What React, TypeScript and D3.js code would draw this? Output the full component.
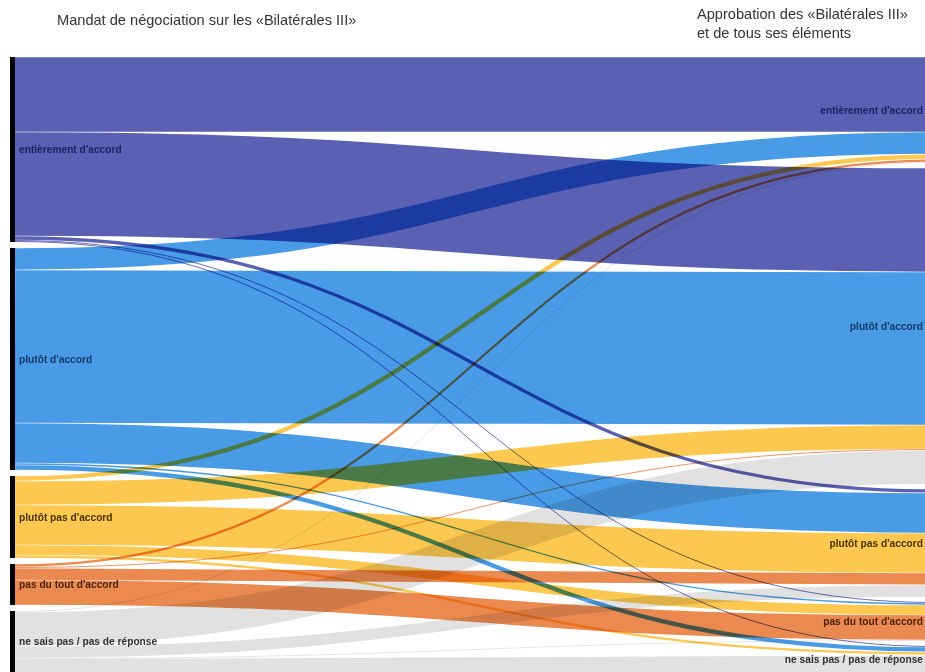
import * as d3 from 'd3';

// categories (same on both sides)
const categories = [
  "entièrement d'accord",
  "plutôt d'accord",
  "plutôt pas d'accord",
  "pas du tout d'accord",
  "ne sais pas / pas de réponse",
];

// flows from each left category to the right categories (same order)
const fromEntierement = [75, 104, 4, 1, 1];
const fromPlutot = [22, 153, 40, 2, 5];
const fromPlutotPas = [5, 24, 40, 10, 3];
const fromPasDuTout = [3, 1, 12, 25, 0];
const fromNeSaisPas = [1, 34, 12, 1, 28];

const flows = [fromEntierement, fromPlutot, fromPlutotPas, fromPasDuTout, fromNeSaisPas];

const leftTitle = 'Mandat de négociation sur les «Bilatérales III»';
const rightTitle = ['Approbation des «Bilatérales III»', 'et de tous ses éléments'];

const COLORS = ['#5a60b2', '#4a9be5', '#fcc84f', '#eb8a50', '#e1e1e1'];
const LABEL_COLORS = ['#1c2262', '#143a6a', '#4a3200', '#4e2200', '#333333'];

const W = 925;
const H = 672;
const TOP = 57;
const X0 = 15;
const X1 = 935;
const PAD_LEFT = 6;
const PAD_RIGHT = 5;

export default function App() {
  const total = d3.sum(flows, (r) => d3.sum(r));
  const y = d3.scaleLinear().domain([0, total]).range([0, total]);

  const leftTotals = flows.map((r) => d3.sum(r));
  const rightTotals = categories.map((_, j) => d3.sum(flows, (r) => r[j]));

  const stack = (totals: number[], pad: number) => {
    let cur = TOP;
    return totals.map((t) => {
      const n = { y0: cur, y1: cur + y(t) };
      cur = n.y1 + pad;
      return n;
    });
  };
  const leftNodes = stack(leftTotals, PAD_LEFT);
  const rightNodes = stack(rightTotals, PAD_RIGHT);

  // offsets inside nodes
  const srcOff = leftNodes.map((n) => n.y0);
  const tgtOff = rightNodes.map((n) => n.y0);
  const links: { s: number; t: number; sy: number; ty: number; w: number }[] = [];
  flows.forEach((row, i) => {
    row.forEach((v, j) => {
      if (v <= 0) return;
      links.push({ s: i, t: j, sy: srcOff[i], ty: 0, w: y(v) });
      srcOff[i] += y(v);
    });
  });
  categories.forEach((_, j) => {
    links
      .filter((l) => l.t === j)
      .sort((a, b) => a.s - b.s)
      .forEach((l) => {
        l.ty = tgtOff[j];
        tgtOff[j] += l.w;
      });
  });

  const linkGen = d3.linkHorizontal<any, [number, number]>()
    .source((d: any) => d.source)
    .target((d: any) => d.target);

  const font = "'Liberation Sans', Arial, sans-serif";
  const mid = (n: { y0: number; y1: number }) => (n.y0 + Math.min(n.y1, H)) / 2;

  return (
    <svg width={W} height={H} style={{ position: 'absolute', left: 0, top: 0, background: '#fff' }}>
      <g style={{ isolation: 'isolate' }}>
        {links.map((l, k) => (
          <path
            key={k}
            d={linkGen({
              source: [X0, l.sy + l.w / 2],
              target: [X1, l.ty + l.w / 2],
            } as any) || ''}
            fill="none"
            stroke={COLORS[l.s]}
            strokeWidth={Math.max(l.w - 0.7, 0.9)}
            style={{ mixBlendMode: 'multiply' }}
          />
        ))}
      </g>
      {leftNodes.map((n, i) => (
        <rect key={i} x={10} y={n.y0} width={5} height={n.y1 - n.y0} fill="#000" />
      ))}
      {leftNodes.map((n, i) => (
        <text key={i} x={19} y={mid(n)} dy="0.35em" fontSize={10.2} fontWeight="bold"
          fontFamily={font} fill={LABEL_COLORS[i]}>
          {categories[i]}
        </text>
      ))}
      {rightNodes.map((n, i) => (
        <text key={i} x={923} y={mid(n)} dy="0.35em" fontSize={10.2} fontWeight="bold"
          textAnchor="end" fontFamily={font} fill={LABEL_COLORS[i]}>
          {categories[i]}
        </text>
      ))}
      <text x={57} y={25} fontSize={14.6} fontFamily={font} fill="#333">{leftTitle}</text>
      {rightTitle.map((t, i) => (
        <text key={i} x={697} y={19 + i * 19} fontSize={14.6} fontFamily={font} fill="#333">{t}</text>
      ))}
    </svg>
  );
}
